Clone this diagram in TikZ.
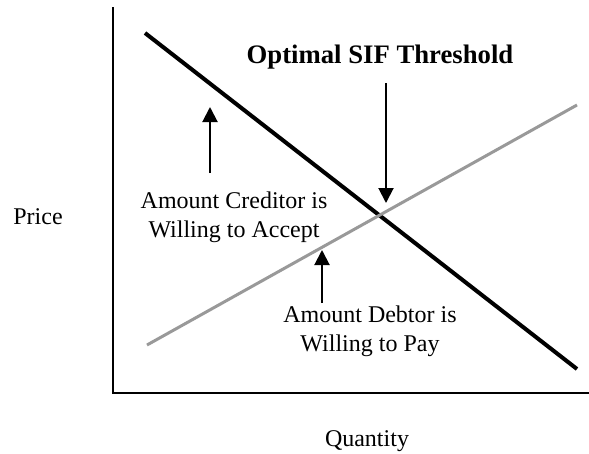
\documentclass[tikz,border=0pt]{standalone}
\usepackage{fontspec}
\setmainfont{Liberation Serif}
\usetikzlibrary{arrows.meta}

\begin{document}
\begin{tikzpicture}[x=1pt, y=-1pt,
  font=\fontsize{24}{29}\selectfont,
  axis/.style={line width=2.5pt, black},
  creditline/.style={line width=4pt, black},
  debtorline/.style={line width=3pt, black!40},
  pointer/.style={line width=2pt, -{Triangle[length=15pt, width=15pt]}},
  lbl/.style={align=center, inner sep=0pt},
  ]
  \useasboundingbox (0,0) rectangle (589,453);

  %%% axes %%%
  \coordinate (top)    at (113,7);
  \coordinate (origin) at (113,393);
  \coordinate (right)  at (589,393);
  \draw[axis] (top) -- (origin) -- (right);

  %%% the two lines %%%
  \coordinate (cstart) at (145,33);
  \coordinate (cend)   at (577,369);
  \coordinate (dstart) at (147,345);
  \coordinate (dend)   at (577,105);
  \draw[creditline] (cstart) -- (cend);
  \draw[debtorline] (dstart) -- (dend);

  %%% labels %%%
  \node[lbl, anchor=base] (price) at (38,224) {Price};
  \node[lbl, anchor=base] (qty)   at (367,446) {Quantity};
  \node[lbl, anchor=base, font=\fontsize{26.7}{32}\selectfont\bfseries] (title) at (380,63) {Optimal SIF Threshold};
  \node[lbl] (creditor) at (234,217) {Amount Creditor is\\Willing to Accept};
  \node[lbl] (debtor)   at (370,331) {Amount Debtor is\\Willing to Pay};

  %%% arrows %%%
  \foreach \nm/\ax/\ay/\bx/\by in {opt/386/83/386/203, cred/210/173/210/107, debt/322/303/322/250} {
    \coordinate (\nm tail) at (\ax,\ay);
    \coordinate (\nm tip)  at (\bx,\by);
    \draw[pointer] (\nm tail) -- (\nm tip);
  }
\end{tikzpicture}
\end{document}
